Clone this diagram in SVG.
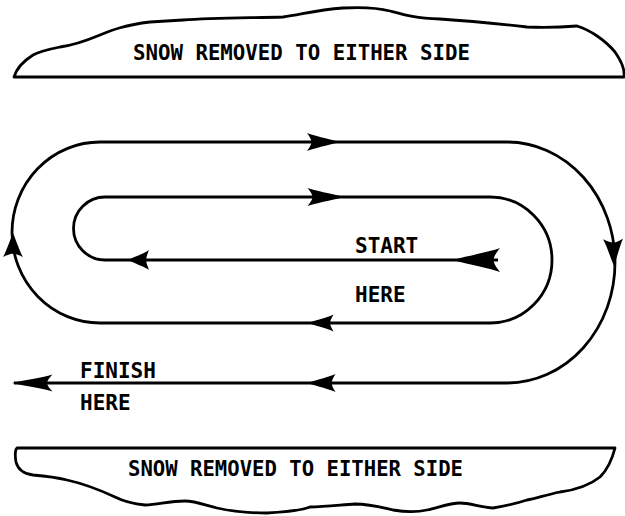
<svg xmlns="http://www.w3.org/2000/svg" xmlns:xlink="http://www.w3.org/1999/xlink" width="625" height="516" viewBox="0 0 625 516">
<style>
.bank{fill:#fff;stroke:#000;stroke-width:2.8;stroke-linejoin:round}
.route{fill:none;stroke:#000;stroke-width:2.8}
.lbl{font-family:"DejaVu Sans Mono","Liberation Mono",monospace;font-size:21px;font-weight:bold;fill:#000}
.ah{fill:#000}
</style>
<defs>
<path id="ah" d="M0,0 C-12,-4 -24,-7 -30,-10 C-27,-5 -26,-2 -26,0 C-26,2 -27,5 -30,10 C-24,7 -12,4 0,0 Z"/>
</defs>
<rect width="625" height="516" fill="#fff"/>
<g id="snow-top">
<path class="bank" d="M14,77 C16,70 22,62 33,55 C40,51 50,49 60,47 C75,45 88,40 100,35 C112,30 125,25 150,22 L183,20 C210,18 240,18 283,17 C300,15 315,10 343,8 C360,7 375,7 390,11 C405,15 415,18 440,19 C470,21 500,24 527,27 C545,28 565,27 577,26 C590,30 605,40 615,52 C622,62 625,70 624,77 Z"/>
<text class="lbl" x="133" y="60" textLength="337" lengthAdjust="spacingAndGlyphs">SNOW REMOVED TO EITHER SIDE</text>
</g>
<g id="snow-bottom">
<path class="bank" d="M17,448 L615,448 C612,460 607,470 600,477 C590,485 575,490 560,492 C545,495 535,499 527,500 C515,504 505,506 493,508 C480,507 470,503 460,503 C450,503 440,507 427,510 C418,512 405,512 393,510 C380,507 370,504 355,504 C340,505 325,507 310,507 C300,511 285,512 267,513 C245,513 230,511 217,508 C205,505 195,501 185,501 C170,501 160,504 145,505 C135,504 125,502 115,497 C100,490 85,484 67,480 C55,477 45,476 33,475 C25,474 18,470 16,462 C15,456 15,450 17,448 Z"/>
<text class="lbl" x="128" y="476" textLength="335" lengthAdjust="spacingAndGlyphs">SNOW REMOVED TO EITHER SIDE</text>
</g>
<g id="start-label"><text class="lbl" x="355" y="253">START</text><text class="lbl" x="355" y="302">HERE</text></g>
<g id="finish-label"><text class="lbl" x="80" y="378">FINISH</text><text class="lbl" x="80" y="410">HERE</text></g>
<g id="connectors">
<path class="route" d="M498,260 L105,260 A31.5,31.5 0 0 1 105,197 L490,197 A62,63 0 0 1 490,323 L100,323 A88,90.5 0 0 1 100,142 L507,142 A108,120.5 0 0 1 507,383 L14,383"/>
<use xlink:href="#ah" class="ah" transform="translate(340,142) scale(1.1,0.9)"/>
<use xlink:href="#ah" class="ah" transform="translate(345,197) scale(1.25,0.9)"/>
<use xlink:href="#ah" class="ah" transform="translate(452,260) rotate(180) scale(1.6,1.2)"/>
<use xlink:href="#ah" class="ah" transform="translate(128,260) rotate(180) scale(0.7,1)"/>
<use xlink:href="#ah" class="ah" transform="translate(308,323) rotate(180) scale(0.85,0.85)"/>
<use xlink:href="#ah" class="ah" transform="translate(307,383) rotate(180) scale(0.95,0.9)"/>
<use xlink:href="#ah" class="ah" transform="translate(12,383) rotate(180) scale(1.35,0.85)"/>
<use xlink:href="#ah" class="ah" transform="translate(13,233) rotate(-90) scale(0.8,1)"/>
<use xlink:href="#ah" class="ah" transform="translate(614,266) rotate(88) scale(0.9,1)"/>
</g>
</svg>
